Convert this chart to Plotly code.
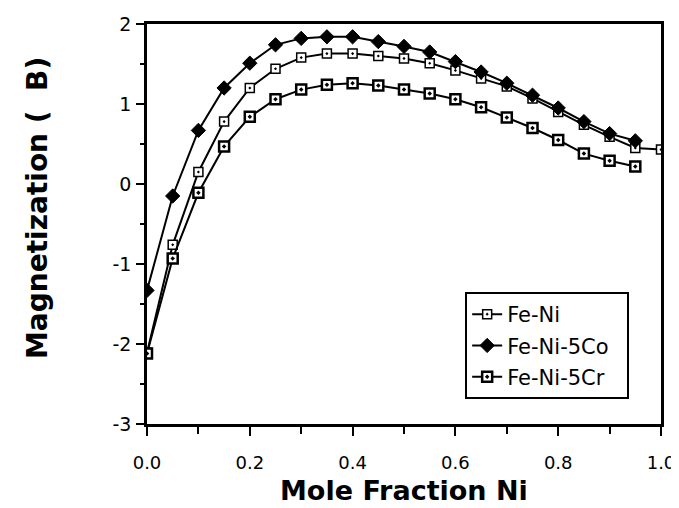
import plotly.graph_objects as go

# Mole fraction Ni
x_feni = [0.0, 0.05, 0.1, 0.15, 0.2, 0.25, 0.3, 0.35, 0.4, 0.45, 0.5,
          0.55, 0.6, 0.65, 0.7, 0.75, 0.8, 0.85, 0.9, 0.95, 1.0]
x_alloy = x_feni[:-1]

# Magnetization (μB)
y_feni = [-2.11, -0.76, 0.15, 0.78, 1.20, 1.44, 1.58, 1.63, 1.63, 1.60, 1.57,
          1.51, 1.42, 1.32, 1.22, 1.07, 0.90, 0.74, 0.59, 0.45, 0.43]
y_co = [-1.33, -0.15, 0.67, 1.20, 1.51, 1.74, 1.82, 1.84, 1.84, 1.78, 1.72,
        1.65, 1.53, 1.40, 1.26, 1.11, 0.95, 0.78, 0.63, 0.54]
y_cr = [-2.12, -0.93, -0.11, 0.47, 0.84, 1.06, 1.18, 1.24, 1.26, 1.23, 1.18,
        1.13, 1.06, 0.96, 0.83, 0.70, 0.55, 0.38, 0.29, 0.22]

x_tickvals = [0.0, 0.2, 0.4, 0.6, 0.8, 1.0]
x_ticktext = ["0.0", "0.2", "0.4", "0.6", "0.8", "1.0"]
y_tickvals = [2, 1, 0, -1, -2, -3]
y_ticktext = ["2", "1", "0", "-1", "-2", "-3"]

FONT = "DejaVu Sans, Liberation Sans, sans-serif"

fig = go.Figure()
series = [
    ("Fe-Ni", x_feni, y_feni, dict(symbol="square-dot", size=9, color="white",
                                   line=dict(color="black", width=1.5))),
    ("Fe-Ni-5Co", x_alloy, y_co, dict(symbol="diamond", size=11, color="black",
                                      line=dict(color="black", width=1))),
    ("Fe-Ni-5Cr", x_alloy, y_cr, dict(symbol="square-dot", size=10, color="white",
                                      line=dict(color="black", width=2.5))),
]
for name, xs, ys, marker in series:
    fig.add_trace(
        go.Scatter(
            x=xs, y=ys, name=name + "\u00a0\u00a0", mode="lines+markers",
            legendgroup=name,
            line=dict(color="black", width=2),
            marker=marker,
        )
    )

axis_common = dict(
    showline=True, linecolor="black", linewidth=2.5, mirror=True,
    ticks="outside", tickcolor="black", tickwidth=2,
    showgrid=False, zeroline=False, automargin=False,
)

# the page body adds an 8px offset, so the figure is a bit smaller than the window
fig.update_layout(
    width=671, height=500,
    margin=dict(l=139, r=18, t=16, b=84),
    plot_bgcolor="white", paper_bgcolor="white",
    xaxis=dict(
        range=[0, 1.0], tickvals=x_tickvals, ticktext=x_ticktext, ticklen=9,
        ticklabelstandoff=12,
        tickfont=dict(family=FONT, size=18, color="black"),
        minor=dict(dtick=0.1, ticks="outside", ticklen=7, tickcolor="black", tickwidth=1.5),
        **axis_common,
    ),
    yaxis=dict(
        range=[-3, 2], tickvals=y_tickvals, ticktext=y_ticktext, ticklen=8,
        ticklabelstandoff=1,
        tickfont=dict(family=FONT, size=19, color="black"),
        minor=dict(dtick=0.5, ticks="outside", ticklen=4, tickcolor="black", tickwidth=1.5),
        **axis_common,
    ),
    annotations=[
        dict(text="<b>Mole Fraction Ni</b>", xref="paper", yref="paper",
             x=0.5, y=-0.165, xanchor="center", yanchor="middle", showarrow=False,
             font=dict(family=FONT, size=27, color="black")),
        dict(text="<b>Magnetization (  B)</b>", xref="paper", yref="paper",
             x=-0.214, y=0.54, xanchor="center", yanchor="middle", showarrow=False,
             textangle=-90, font=dict(family=FONT, size=28, color="black")),
    ],
    legend=dict(
        x=0.619, y=0.33, xanchor="left", yanchor="top",
        bordercolor="black", borderwidth=2, bgcolor="white",
        font=dict(family=FONT, size=21, color="black"),
        tracegroupgap=1, itemwidth=30,
    ),
    showlegend=True,
)

fig.write_html("out.html")
